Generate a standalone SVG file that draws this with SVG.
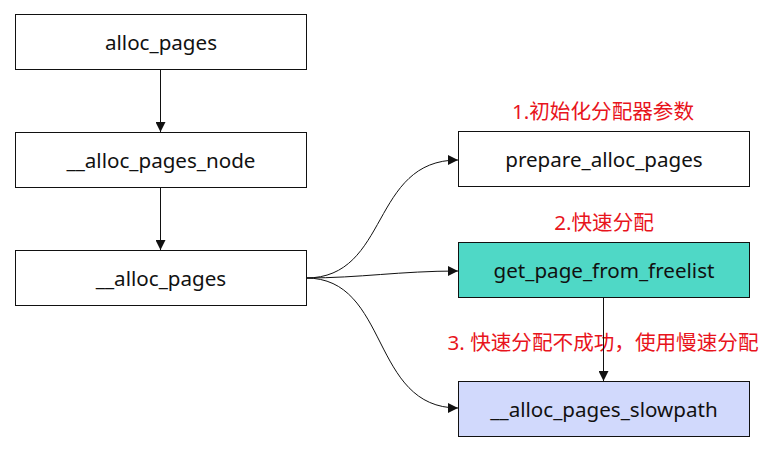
<svg xmlns="http://www.w3.org/2000/svg" width="782" height="470" viewBox="0 0 782 470">
<defs>
<marker id="ah" viewBox="0 0 10 10" refX="10" refY="5" markerWidth="10" markerHeight="10" markerUnits="userSpaceOnUse" orient="auto">
<path d="M0,0 L10,5 L0,10 z" fill="#111"/>
</marker>
<style>
.box{stroke:#111;stroke-width:1}
.t{font-family:"Noto Sans","Noto Sans CJK SC",sans-serif;font-size:20.6px;fill:#111;text-anchor:middle;dominant-baseline:central}
.r{font-family:"Noto Sans","Noto Sans CJK SC",sans-serif;font-size:20.6px;fill:#e8141c;text-anchor:middle;dominant-baseline:central}
.c{fill:none;stroke:#111;stroke-width:1}
</style>
</defs>
<rect width="782" height="470" fill="#fff"/>
<g id="n1"><rect class="box" x="15.5" y="14.5" width="291" height="55" fill="#fff"/><text class="t" x="161" y="42">alloc_pages</text></g>
<g id="n2"><rect class="box" x="15.5" y="132.5" width="291" height="55" fill="#fff"/><text class="t" x="161" y="160">__alloc_pages_node</text></g>
<g id="n3"><rect class="box" x="15.5" y="250.5" width="291" height="55" fill="#fff"/><text class="t" x="161" y="278">__alloc_pages</text></g>
<g id="n4"><rect class="box" x="458.5" y="131.5" width="291" height="55" fill="#fff"/><text class="t" x="604" y="159">prepare_alloc_pages</text></g>
<g id="n5"><rect class="box" x="458.5" y="242.5" width="291" height="55" fill="#4fd8c6"/><text class="t" x="604" y="270">get_page_from_freelist</text></g>
<g id="n6"><rect class="box" x="458.5" y="381.5" width="291" height="55" fill="#d1d9fc"/><text class="t" x="604" y="409">__alloc_pages_slowpath</text></g>
<g id="labels">
<text class="r" x="603" y="111">1.初始化分配器参数</text>
<text class="r" x="604" y="222">2.快速分配</text>
<text class="r" x="603" y="342">3. 快速分配不成功，使用慢速分配</text>
</g>
<g id="connectors">
<path class="c" d="M160.5,69.5 L160.5,132" marker-end="url(#ah)"/>
<path class="c" d="M160.5,187.5 L160.5,250" marker-end="url(#ah)"/>
<path class="c" d="M603.5,297.5 L603.5,381" marker-end="url(#ah)"/>
<path class="c" d="M306,278 C390,278 370,160 458,160" marker-end="url(#ah)"/>
<path class="c" d="M306,278 C360,278 400,271 458,271" marker-end="url(#ah)"/>
<path class="c" d="M306,278 C390,278 370,408 458,408" marker-end="url(#ah)"/>
</g>
</svg>
